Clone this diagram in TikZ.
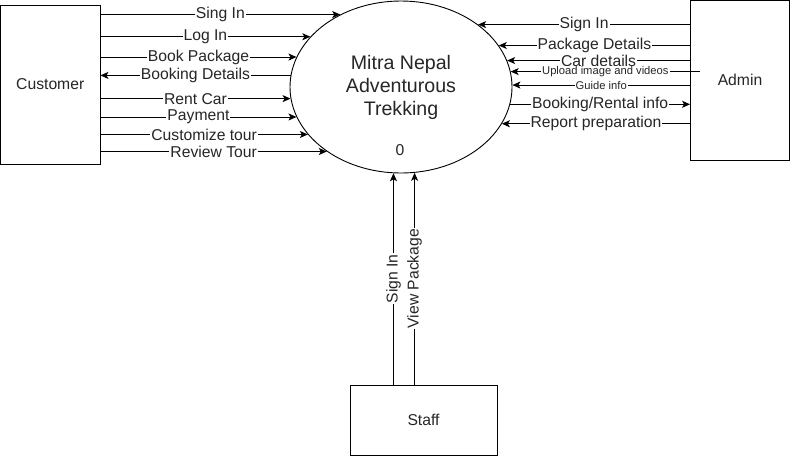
\documentclass[tikz,border=0pt]{standalone}
\usepackage{fontspec}
\setmainfont{Liberation Sans}
\usetikzlibrary{arrows.meta,shapes.geometric}
\newcommand*\boxfont{\fontsize{15.7}{18}\selectfont}
\newcommand*\flowfont{\fontsize{15.7}{18}\selectfont}
\newcommand*\tinyflowfont{\fontsize{11.2}{13}\selectfont}
\newcommand*\procfont{\fontsize{19.6}{23}\selectfont}

\begin{document}
\begin{tikzpicture}[x=1pt, y=-1pt, text=black!85]
\useasboundingbox (0,0) rectangle (792,456);
\begin{scope}[every node/.style={draw, line width=0.9pt, inner sep=0pt, font=\boxfont}]
    \node[minimum width=99.5pt, minimum height=159pt] (cust) at (50.25,84.5) {Customer};
    \node[minimum width=99pt, minimum height=159.5pt] (admin) at (740,80.25) {Admin};
    \node[minimum width=147pt, minimum height=70pt] (staff) at (423.5,420) {Staff};
    \node[ellipse, minimum width=222pt, minimum height=172pt, align=center, font=\procfont] (proc) at (401,87) {Mitra Nepal\\Adventurous\\Trekking};
\end{scope}
\node[font=\boxfont] (pnum) at (400,150) {0};
\coordinate (upl) at ([xshift=10pt]admin.west);
\begin{scope}[every edge/.style={draw=black, line width=0.9pt, -{Stealth[length=8pt, width=7pt, inset=2pt]}},
              every node/.style={fill=white, inner xsep=1pt, inner ysep=0pt, font=\flowfont}]
    % customer
    \path (cust.east |- proc.130) edge node {Sing In} (proc.130);
    \path (cust.east |- proc.151) edge node {Log In} (proc.151);
    \path (cust.east |- proc.164) edge node {Book Package} (proc.164);
    \path (proc.174) edge node {Booking Details} (cust.east |- proc.174);
    \path (cust.east |- proc.186) edge node {Rent Car} (proc.186);
    \path (cust.east |- proc.196) edge node {Payment} (proc.196);
    \path (cust.east |- proc.207) edge node {Customize tour} (proc.207);
    \path (cust.east |- proc.221) edge node {Review Tour} (proc.221);
    % admin
    \path (admin.west |- proc.39) edge node {Sign In} (proc.39);
    \path (admin.west |- proc.23) edge node {Package Details} (proc.23);
    \path (admin.west |- proc.14) edge node {Car details} (proc.14);
    \path (upl |- proc.8) edge node[font=\tinyflowfont] {Upload image and videos} (proc.8);
    \path (admin.west |- proc.1) edge node[font=\tinyflowfont] {Guide info} (proc.1);
    \path (proc.-9) edge node {Booking/Rental info} (admin.west |- proc.-9);
    \path (admin.west |- proc.-20) edge node {Report preparation} (proc.-20);
    % staff
    \path (staff.north -| proc.265) edge node[rotate=90] {Sign In} (proc.265);
    \path (staff.north -| proc.279) edge node[rotate=90] {View Package} (proc.279);
\end{scope}
\end{tikzpicture}
\end{document}
